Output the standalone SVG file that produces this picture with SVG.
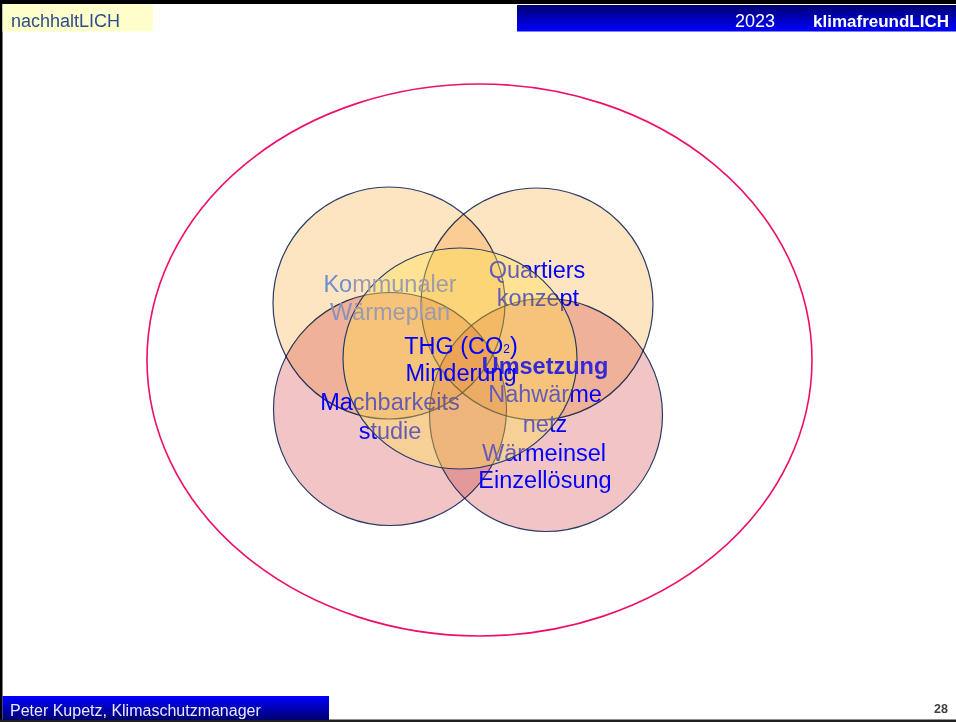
<svg xmlns="http://www.w3.org/2000/svg" width="956" height="722" viewBox="0 0 956 722">
  <defs>
    <linearGradient id="headBar" x1="0" y1="0" x2="0" y2="1">
      <stop offset="0" stop-color="#000070"/>
      <stop offset="1" stop-color="#0000FF"/>
    </linearGradient>
    <linearGradient id="footBar" x1="0" y1="0" x2="0" y2="1">
      <stop offset="0" stop-color="#0000FF"/>
      <stop offset="1" stop-color="#000070"/>
    </linearGradient>
    <style>
      /* the four outer circles darken each other where they overlap */
      .peach { fill: #FDE0B7; fill-opacity: 0.85; stroke: #2B3A67; stroke-width: 1.2; mix-blend-mode: multiply; }
      .pink { fill: #EFBBBC; fill-opacity: 0.85; stroke: #2B3A67; stroke-width: 1.2; mix-blend-mode: multiply; }
      /* the central circle is a translucent yellow wash */
      .core { fill: #FFE050; fill-opacity: 0.4; stroke: #2B3A67; stroke-width: 1.2; }
      .lbl { font-family: "Liberation Sans", Arial, sans-serif; font-size: 23.5px; fill: #0000FF; text-anchor: middle; }
      .bold { font-weight: bold; }
      .faint { fill: #9C9AAC; }
    </style>
  </defs>

  <!-- page background and frame -->
  <rect x="0" y="0" width="956" height="722" fill="#FFFFFF"/>
  <rect x="0" y="0" width="956" height="4" fill="#000000"/>
  <rect x="0" y="0" width="2.5" height="722" fill="#000000"/>
  <rect x="0" y="719.5" width="956" height="2.5" fill="#202020"/>

  <!-- header -->
  <g id="header-left">
    <rect x="2.5" y="4" width="150.5" height="27.5" fill="#FFFFCC"/>
    <text x="11" y="27" font-family="Liberation Sans, Arial, sans-serif" font-size="18" fill="#2E4E8A">nachhaltLICH</text>
  </g>
  <g id="header-right">
    <rect x="517" y="5" width="439" height="26.5" fill="url(#headBar)"/>
    <text x="735" y="27" font-family="Liberation Sans, Arial, sans-serif" font-size="18" fill="#FFFFFF">2023</text>
    <text x="813" y="27" font-family="Liberation Sans, Arial, sans-serif" font-size="17" font-weight="bold" fill="#FFFFFF">klimafreundLICH</text>
  </g>

  <!-- footer -->
  <g id="footer">
    <rect x="2.5" y="696" width="326.5" height="24" fill="url(#footBar)"/>
    <text x="10" y="716" font-family="Liberation Sans, Arial, sans-serif" font-size="16" fill="#E8E8FF">Peter Kupetz, Klimaschutzmanager</text>
    <text x="948" y="712.5" font-family="Liberation Sans, Arial, sans-serif" font-size="12.5" font-weight="bold" fill="#404040" text-anchor="end">28</text>
  </g>

  <!-- outer boundary -->
  <g id="boundary">
    <ellipse cx="479.5" cy="360" rx="332.5" ry="276" fill="none" stroke="#EE0F6A" stroke-width="1.6"/>
  </g>

  <!-- Venn: circles and their labels, layered bottom to top -->
  <g id="node-waermeplan">
    <circle class="peach" cx="389" cy="303" r="116"/>
  </g>
  <g id="node-quartier">
    <circle class="peach" cx="537" cy="304" r="116"/>
    <text class="lbl" x="537" y="278">Quartiers</text>
    <text class="lbl" x="538" y="306">konzept</text>
  </g>
  <g id="node-machbarkeit">
    <circle class="pink" cx="390" cy="409" r="116.5"/>
    <text class="lbl" x="390" y="410">Machbarkeits</text>
    <text class="lbl" x="390" y="439">studie</text>
  </g>
  <g id="node-nahwaerme">
    <circle class="pink" cx="546" cy="415" r="116.5"/>
    <text class="lbl" x="545" y="402">Nahwärme</text>
    <text class="lbl" x="545" y="432">netz</text>
    <text class="lbl" x="544" y="461">Wärmeinsel</text>
    <text class="lbl" x="545" y="488">Einzellösung</text>
  </g>
  <g id="node-thg">
    <ellipse class="core" cx="460" cy="358.5" rx="117" ry="110.5"/>
    <text class="lbl bold" x="545" y="374" style="fill:#3428D8">Umsetzung</text>
    <text class="lbl" x="461" y="354">THG (CO<tspan font-size="12" dy="-1">2</tspan><tspan dy="1">)</tspan></text>
    <text class="lbl" x="461" y="381">Minderung</text>
  </g>
  <!-- label of the upper-left circle, faded into the fills -->
  <g id="label-waermeplan">
    <text class="lbl" x="390" y="292"><tspan style="fill:#6F8FCC">Ko</tspan><tspan class="faint">mmunaler</tspan></text>
    <text class="lbl faint" x="390" y="320"><tspan style="fill:#8A92B6">W</tspan>ärmeplan</text>
  </g>
  <g id="connectors"/>
</svg>
